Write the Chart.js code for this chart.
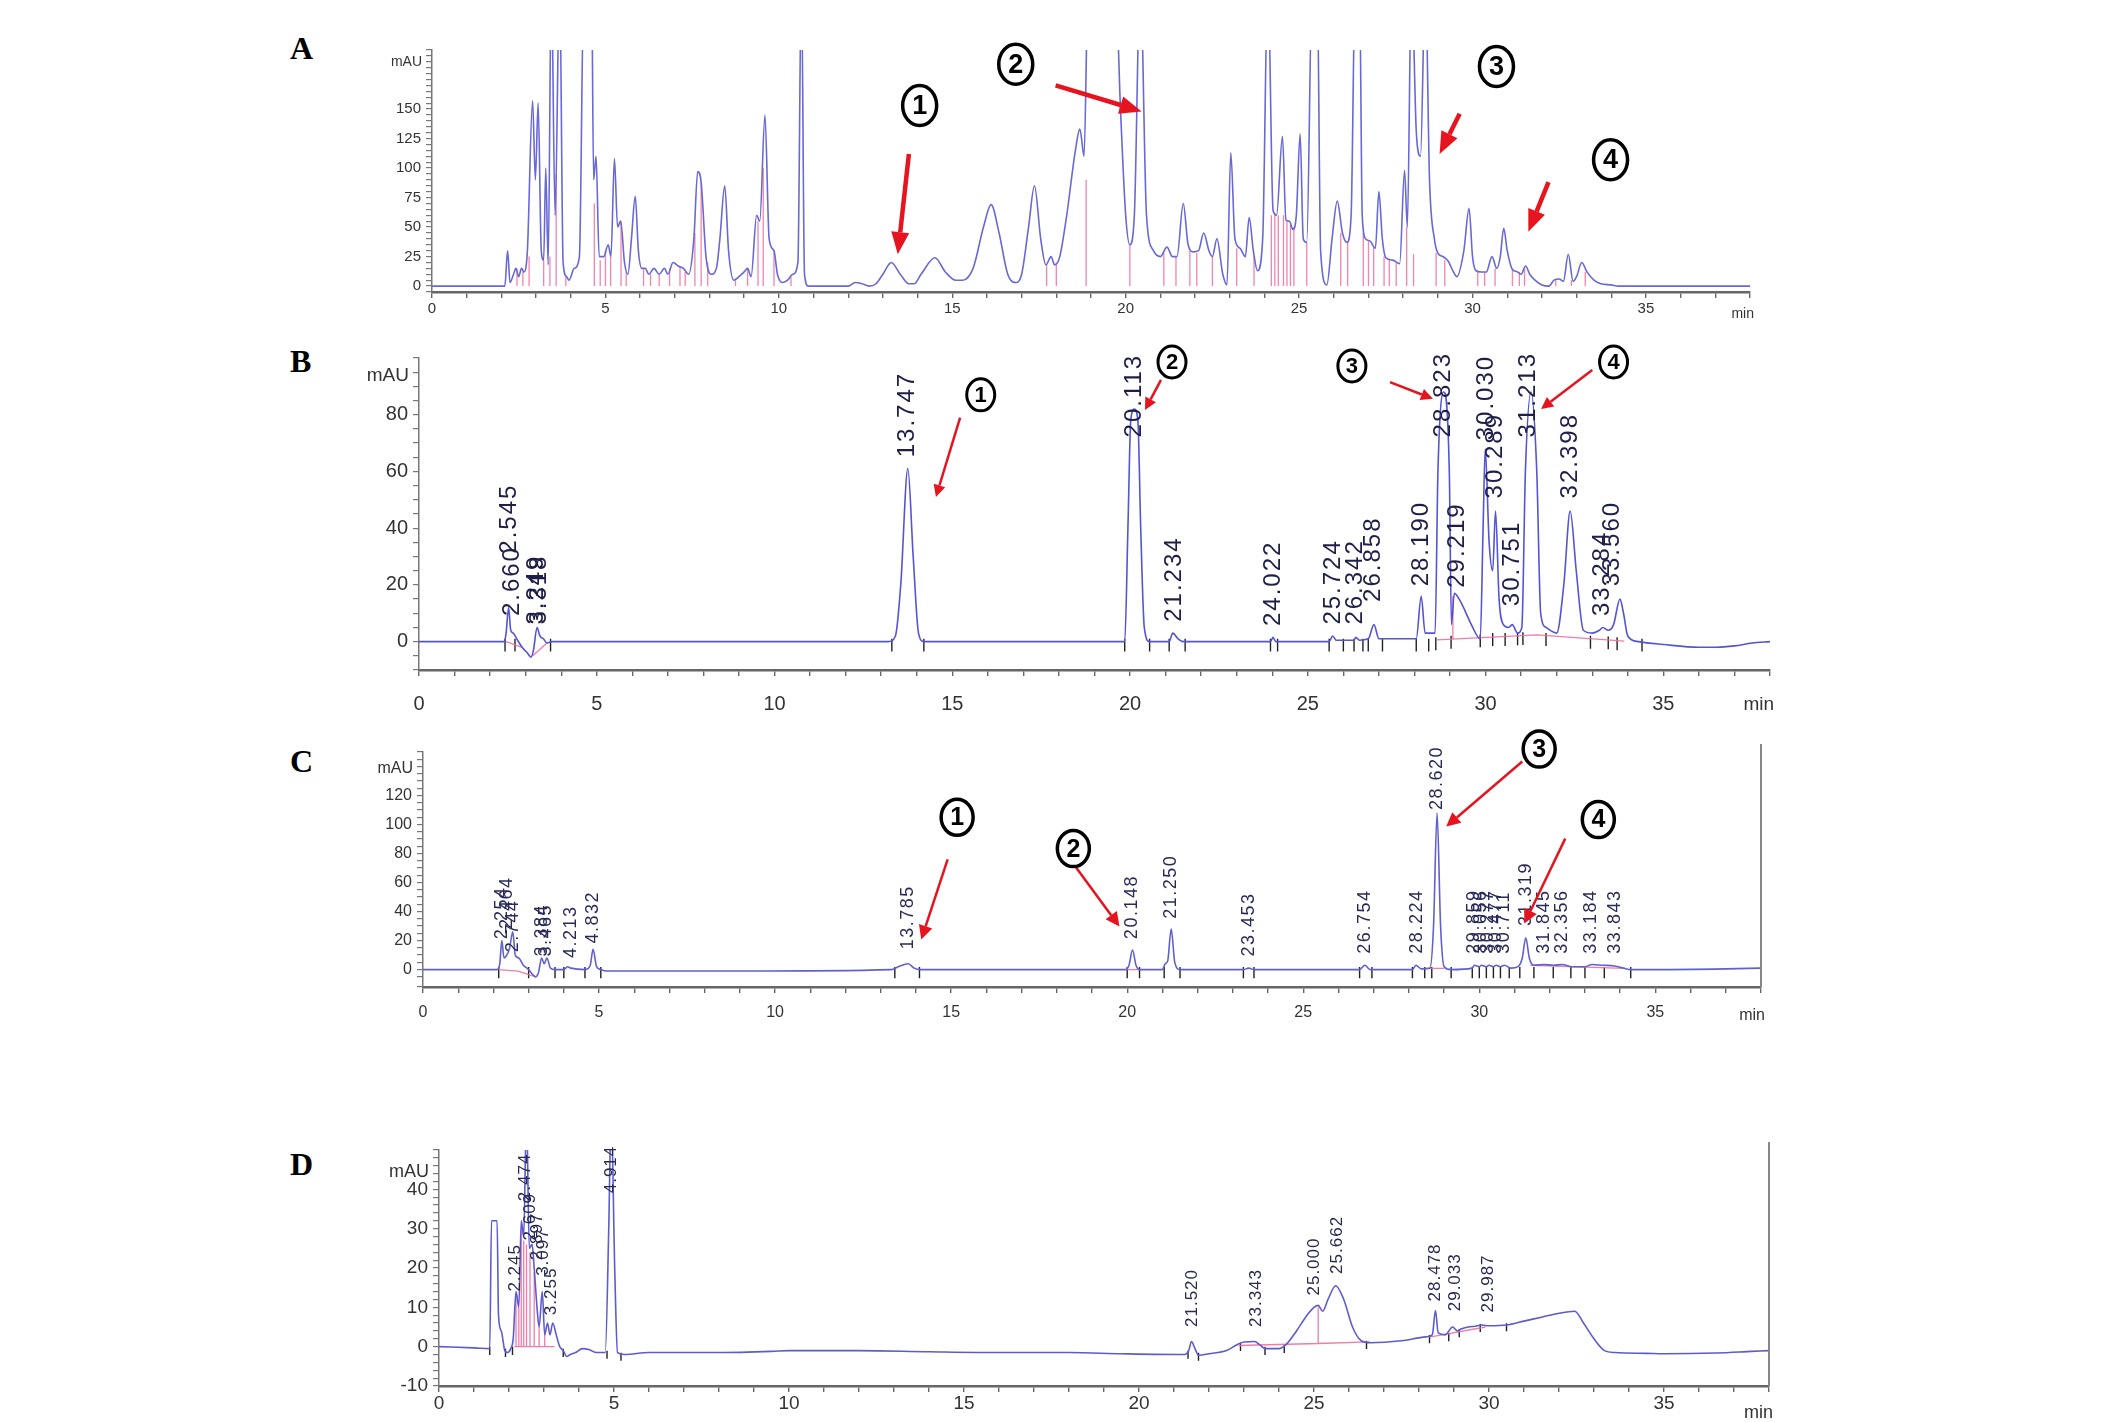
<!DOCTYPE html>
<html>
<head>
<meta charset="utf-8">
<script src="https://cdn.jsdelivr.net/npm/chart.js@4.4.1/dist/chart.umd.min.js"></script>
<style>
  html, body { margin: 0; padding: 0; background: #fff; width: 2126px; height: 1422px; overflow: hidden; }
  .panel { position: absolute; }
  .letter { position: absolute; font-family: "Liberation Serif", "Times New Roman", serif; font-weight: bold; font-size: 32px; color: #000; line-height: 36px; }
</style>
</head>
<body>
<div class="letter" style="left:290px;top:30px">A</div>
<div class="letter" style="left:290px;top:343px">B</div>
<div class="letter" style="left:290px;top:743px">C</div>
<div class="letter" style="left:290px;top:1146px">D</div>
<div class="panel" style="left:322px;top:5px;width:1488px;height:327px"><canvas id="chA"></canvas></div>
<div class="panel" style="left:309px;top:313px;width:1521px;height:405px"><canvas id="chB"></canvas></div>
<div class="panel" style="left:313px;top:707px;width:1508px;height:328px"><canvas id="chC"></canvas></div>
<div class="panel" style="left:329px;top:1105px;width:1500px;height:317px"><canvas id="chD"></canvas></div>
<script>
// ---- panel A : sample chromatogram (time min, mAU) ----
const traceA = [[0,0],[2.0,0],[2.1,0],[2.18,30],[2.25,3],[2.35,10],[2.42,15],[2.5,8],[2.58,15],[2.65,12],[2.75,30],
  [2.9,157],[2.98,90],[3.06,155],[3.15,30],[3.22,22],[3.28,100],[3.35,18],[3.44,260],[3.55,60],[3.68,260],[3.78,20],
  [3.88,8],[3.95,5],[4.1,15],[4.25,25],[4.38,260],[4.5,260],[4.6,260],[4.66,90],[4.73,110],[4.82,25],[4.95,25],
  [5.08,35],[5.16,25],[5.26,108],[5.35,50],[5.44,55],[5.55,20],[5.65,10],[5.75,40],[5.86,76],[5.95,30],[6.05,15],
  [6.15,15],[6.25,10],[6.4,15],[6.55,10],[6.7,15],[6.8,10],[6.95,20],[7.1,17],[7.25,15],[7.4,10],[7.55,40],[7.66,97],
  [7.76,88],[7.9,25],[8.05,10],[8.2,15],[8.3,40],[8.44,85],[8.55,30],[8.7,5],[8.85,8],[9.0,12],[9.1,15],[9.2,8],
  [9.36,60],[9.45,55],[9.6,145],[9.72,40],[9.86,30],[9.96,10],[10.1,3],[10.25,5],[10.4,10],[10.55,20],[10.65,260],
  [10.74,10],[10.85,0],[11.5,0],[12.0,0],[12.2,3],[12.4,2],[12.6,0],[12.8,2],[13.0,10],[13.24,20],[13.5,10],
  [13.75,2],[13.9,2],[14.1,10],[14.5,24],[14.8,12],[15.1,5],[15.3,5],[15.6,15],[15.9,50],[16.12,69],[16.35,45],
  [16.6,10],[16.85,3],[17.0,10],[17.2,50],[17.37,85],[17.55,40],[17.7,18],[17.85,25],[17.95,18],[18.1,25],[18.3,60],
  [18.55,115],[18.68,133],[18.8,110],[18.92,260],[19.1,260],[19.4,260],[19.7,260],[19.85,150],[20.0,60],[20.12,35],
  [20.25,60],[20.42,260],[20.6,60],[20.8,30],[21.0,25],[21.19,33],[21.35,25],[21.48,25],[21.66,70],[21.8,35],
  [21.95,29],[22.1,30],[22.25,45],[22.4,30],[22.5,25],[22.63,40],[22.8,10],[22.92,1],[23.03,113],[23.15,40],
  [23.3,32],[23.45,25],[23.56,58],[23.68,30],[23.8,13],[23.95,40],[24.1,260],[24.25,64],[24.35,60],[24.52,127],
  [24.62,56],[24.72,55],[24.82,48],[24.92,60],[25.03,129],[25.12,40],[25.22,37],[25.38,260],[25.52,260],[25.62,30],
  [25.8,1],[25.95,40],[26.1,72],[26.25,45],[26.38,37],[26.5,60],[26.62,260],[26.74,260],[26.82,60],[26.92,40],
  [27.05,38],[27.2,32],[27.3,80],[27.4,40],[27.5,24],[27.7,22],[27.9,19],[28.04,98],[28.12,50],[28.24,260],
  [28.38,130],[28.5,110],[28.64,260],[28.76,90],[28.9,40],[29.0,28],[29.15,25],[29.3,21],[29.45,12],[29.55,8],
  [29.75,30],[29.9,66],[30.0,25],[30.1,13],[30.25,12],[30.4,12],[30.56,25],[30.7,15],[30.8,25],[30.9,49],[31.0,30],
  [31.15,14],[31.3,12],[31.4,10],[31.53,17],[31.65,10],[31.8,5],[32.0,1],[32.2,0],[32.35,5],[32.5,6],[32.62,4],
  [32.76,27],[32.9,4],[33.0,8],[33.15,20],[33.3,12],[33.5,5],[33.7,2],[34.0,1],[34.2,0],[35.0,0],[38.0,0]];
const pinkA = [[2.45,15],[2.62,12],[2.8,25],[3.22,22],[3.4,25],[3.58,95],[3.86,8],[4.68,70],[4.85,22],[5.0,30],
  [5.15,25],[5.45,55],[5.6,12],[6.1,15],[6.3,10],[6.55,10],[6.85,15],[7.15,17],[7.3,12],[7.58,45],[7.76,88],[7.95,20],
  [8.75,5],[9.1,15],[9.4,55],[9.55,100],[9.86,30],[10.35,8],[17.72,18],[18.0,20],[18.86,90],[20.12,35],[21.1,28],
  [21.45,25],[21.85,30],[22.05,28],[22.5,25],[23.2,32],[23.7,25],[24.2,60],[24.3,62],[24.4,60],[24.55,60],[24.65,55],
  [24.75,52],[24.85,50],[25.22,37],[26.2,45],[26.4,37],[26.85,45],[27.0,38],[27.15,33],[27.45,25],[27.6,23],
  [27.8,20],[28.1,50],[28.3,27],[28.95,28],[29.2,22],[30.15,13],[30.35,12],[30.65,15],[31.15,14],[31.35,12],
  [31.5,15],[32.4,5],[32.85,5],[33.25,12]];
const circlesA = [[14.06,153,'1'],[16.83,188,'2'],[30.69,186,'3'],[33.98,107,'4']];
const arrowsA = [[13.75,112,13.43,27],[17.98,170,20.46,148],[29.63,146,29.05,112],[32.19,88,31.61,46]];

// ---- panel B ----
const traceB = [[0,0],[2.4,0],[2.45,3],[2.52,12],[2.58,4],[2.65,3],[2.75,1],[2.9,-2],[3.05,-4],[3.15,-5.5],[3.22,-3],
  [3.32,5],[3.4,2],[3.5,1],[3.6,-0.5],[3.75,0],[13.2,0],[13.4,2],[13.55,20],[13.75,61],[13.9,30],[14.05,3],[14.2,0],
  [19.85,0],[19.94,40],[20.02,78],[20.12,82],[20.22,78],[20.3,40],[20.4,5],[20.55,0],[21.1,0],[21.2,3],[21.35,1],
  [21.5,0],[23.95,0],[24.02,1.5],[24.1,0],[25.6,0],[25.7,2],[25.8,0.5],[26.3,0.5],[26.35,1.5],[26.45,0.5],[26.7,1],
  [26.86,6],[27.0,1],[28.05,1],[28.19,16],[28.3,3],[28.58,3],[28.66,60],[28.82,88],[28.98,60],[29.04,6],[29.12,17],
  [29.3,14],[29.6,6],[29.85,1],[29.93,40],[29.99,68],[30.1,35],[30.2,25],[30.28,46],[30.38,15],[30.5,6],[30.65,5],
  [30.75,6],[30.9,3],[31.02,5],[31.12,60],[31.28,88],[31.44,60],[31.55,10],[31.7,5],[32.0,3],[32.2,20],[32.38,46],
  [32.55,25],[32.75,4],[33.0,3],[33.2,4],[33.3,5],[33.45,4],[33.6,6],[33.78,15],[33.88,10],[34.0,2],[34.3,0],
  [35.0,-1],[36.0,-2],[36.5,-2],[37.0,-1.5],[37.5,-0.5],[38.0,0]];
const pinkLineB = [[28.62,0.6],[31.45,2.4],[33.9,0.2],null,[29.08,0.8],[29.08,16],null,[2.45,0],[2.9,-2],null,[3.2,-5],[3.6,-0.5]];
const marksB = [[2.42,0],[2.7,0],[3.7,0],[13.3,0],[14.2,0],[19.85,0],[20.55,0],[21.1,0],[21.55,0],[23.95,0],[24.15,0],
  [25.6,0],[26.0,0],[26.3,0],[26.55,0],[26.7,0],[27.1,0],[28.05,0],[28.4,0],[28.6,0.5],[29.03,1],[29.85,1.5],[30.2,2],
  [30.55,2],[30.9,2.2],[31.05,2.3],[31.7,2],[32.95,1],[33.45,0.8],[33.7,0.5],[34.4,0]];
const peaksB = [[2.545,'2.545',31],[2.62,'2.660',9],[3.30,'3.249',6],[3.38,'3.318',6],[13.747,'13.747',65],
  [20.113,'20.113',72],[21.234,'21.234',7],[24.022,'24.022',5.5],[25.724,'25.724',6],[26.342,'26.342',6],
  [26.858,'26.858',14],[28.190,'28.190',19.5],[28.823,'28.823',72],[29.219,'29.219',19],[30.030,'30.030',71],
  [30.289,'30.289',50.5],[30.751,'30.751',12.5],[31.213,'31.213',72],[32.398,'32.398',50.5],[33.284,'33.284',9],
  [33.560,'33.560',19.5]];
const circlesB = [[15.8,87,'1'],[21.18,98.6,'2'],[26.24,97.2,'3'],[33.6,98.6,'4']];
const arrowsB = [[15.22,79,14.54,51],[20.87,92.3,20.42,81.7],[27.31,91.5,28.52,85.6],[33.0,95.8,31.56,82]];

// ---- panel C ----
const traceC = [[0,0],[2.1,0],[2.18,4],[2.24,20],[2.3,8],[2.38,10],[2.46,15],[2.55,26],[2.62,10],[2.72,8],[2.85,3],
  [3.0,0],[3.1,-3],[3.2,-5],[3.28,-2],[3.37,8],[3.44,4],[3.52,8],[3.62,1],[3.75,0],[4.0,0],[4.1,2],[4.2,1],[4.6,0],
  [4.75,3],[4.83,14],[4.93,2],[5.05,0],[5.2,-1],[9.0,-1],[13.3,0],[13.5,2],[13.78,4],[13.95,1],[14.1,0],[19.95,0],
  [20.05,3],[20.15,13.5],[20.25,3],[20.35,0],[21.0,0],[21.08,4],[21.15,6],[21.25,28],[21.35,5],[21.5,0],[23.3,0],
  [23.45,1],[23.6,0],[26.6,0],[26.75,3],[26.9,0],[28.1,0],[28.2,3],[28.35,0.5],[28.6,1],[28.7,30],[28.8,108],[28.9,30],
  [29.0,2],[29.2,0],[29.8,1],[29.86,3],[30.0,2],[30.06,3],[30.2,2],[30.28,3],[30.4,2],[30.48,3],[30.6,2],[30.71,3],
  [30.9,1],[31.1,2],[31.22,8],[31.32,22],[31.42,8],[31.55,3],[31.85,3.5],[32.1,3],[32.36,3.5],[32.6,2],[33.0,2],
  [33.2,3.5],[33.5,3],[33.84,2.5],[34.1,1],[34.3,0],[35.0,0],[37.0,0.5],[38.0,1]];
const pinkLineC = [[31.45,3],[34.1,0.8],null,[2.15,0],[2.7,-1],[3.2,-5],null,[28.6,0.8],[29.0,0.8],null,[20.0,0],[20.35,0]];
const marksC = [[2.15,0],[3.0,0],[3.75,0],[4.0,0],[4.6,0],[5.05,0],[13.4,0],[14.1,0],[20.0,0],[20.35,0],[21.05,0],
  [21.5,0],[23.3,0],[23.6,0],[26.6,0],[26.95,0],[28.1,0],[28.45,0],[28.65,0],[29.2,0],[29.8,0],[30.0,0],[30.2,0],
  [30.4,0],[30.6,0],[30.85,0],[31.15,0],[31.55,0],[32.1,0],[32.6,0],[33.0,0],[33.55,0],[34.3,0]];
const peaksC = [[2.25,'2.254',21],[2.40,'2.464',28],[2.55,'2.744',12],[3.38,'3.384',9],[3.50,'3.465',9],
  [4.213,'4.213',8],[4.832,'4.832',18],[13.785,'13.785',14],[20.148,'20.148',21],[21.250,'21.250',35],
  [23.453,'23.453',9],[26.754,'26.754',11],[28.224,'28.224',11],[28.8,'28.620',110],[29.859,'29.859',11],
  [30.05,'30.056',11],[30.25,'30.277',11],[30.48,'30.477',11],[30.711,'30.711',11],[31.319,'31.319',30],
  [31.845,'31.845',11],[32.356,'32.356',11],[33.184,'33.184',11],[33.843,'33.843',11]];
const circlesC = [[15.17,105,'1'],[18.47,83.4,'2'],[31.7,152,'3'],[33.38,103.4,'4']];
const arrowsC = [[14.9,76,14.15,20.7],[18.47,73,19.78,29.7],[31.22,143.4,29.06,98.6],[32.44,90.3,31.28,31.7]];

// ---- panel D ----
const traceD = [[0,0],[1.0,-0.3],[1.45,-0.5],[1.5,32],[1.66,32],[1.7,8],[1.78,4],[1.88,-1],[1.95,-1.5],[2.05,-0.5],
  [2.12,2],[2.2,14],[2.28,10],[2.35,32],[2.42,28],[2.5,60],[2.58,25],[2.66,26],[2.72,20],[2.8,10],[2.86,5],[2.95,14],
  [3.02,3],[3.1,6],[3.17,3],[3.25,6],[3.35,3],[3.45,0],[3.55,-1],[3.65,-2.5],[3.75,-2],[3.9,-1.5],[4.1,-0.5],
  [4.3,-0.8],[4.5,-1.5],[4.75,-1.5],[4.85,30],[4.92,60],[5.02,20],[5.1,-1.5],[5.3,-2],[6.0,-1.5],[8.0,-1.5],
  [9.5,-1.2],[10.0,-1],[12.0,-1],[14.0,-1.3],[16.0,-1.5],[18.0,-1.5],[19.5,-1.8],[21.3,-2],[21.42,-1],[21.5,1.3],
  [21.6,-0.5],[21.7,-2.2],[22.0,-1.8],[22.5,-1],[22.8,0.5],[23.0,1.2],[23.3,1.3],[23.45,0.5],[23.6,-0.5],[24.0,-0.5],
  [24.2,0.5],[24.5,4],[24.8,8],[25.0,10],[25.12,10.5],[25.25,9],[25.4,12],[25.62,15.5],[25.85,12],[26.1,5],
  [26.35,1.5],[26.6,1],[27.5,1.5],[28.2,2.5],[28.38,3],[28.47,9.2],[28.55,3.5],[28.75,3],[28.96,5],[29.1,4],
  [29.2,4.5],[29.4,5],[29.6,5.2],[29.8,5.5],[30.0,5.3],[30.5,5.5],[31.0,6.5],[31.5,7.5],[32.0,8.5],[32.45,9],
  [32.7,6],[33.0,2],[33.3,-1],[33.6,-1.5],[34.5,-1.7],[35.0,-1.8],[36.5,-1.6],[37.5,-1.2],[38.0,-1]];
const pinkLineD = [[22.85,0.3],[25.12,0.8],[26.6,1.2],null,[25.12,0.8],[25.12,10],null,[28.3,2.4],[29.9,5],null,
  [2.2,0],[2.2,13],null,[2.28,0],[2.28,10],null,[2.35,0],[2.35,30],null,[2.42,0],[2.42,27],null,[2.5,0],[2.5,26],null,
  [2.6,0],[2.6,24],null,[2.72,0],[2.72,19],null,[2.86,0],[2.86,5],null,[3.02,0],[3.02,3],null,[2.15,0],[3.3,0]];
const marksD = [[1.45,-0.5],[1.9,-1],[2.1,-0.5],[3.55,-1],[4.8,-1.5],[5.2,-2],[21.4,-1.5],[21.7,-2],[22.9,0.5],
  [23.6,-0.5],[24.15,0],[26.5,1],[28.3,2.5],[28.85,3],[29.15,4],[29.75,5.3],[30.5,5.5]];
const peaksD = [[2.18,'2.245',14],[2.48,'2.474',37],[2.62,'2.609',27],[2.82,'2.897',22],[2.98,'3.097',18],
  [3.2,'3.255',8],[4.914,'4.914',39],[21.520,'21.520',5],[23.343,'23.343',5],[25.000,'25.000',13],
  [25.662,'25.662',18.5],[28.478,'28.478',11.5],[29.033,'29.033',9],[29.987,'29.987',8.7]];

function pts(arr) {
  let last = 0;
  return arr.map(p => {
    if (p === null) return { x: last, y: null };
    last = p[0];
    return { x: p[0], y: p[1] };
  });
}
function drops(arr, from) {
  let res = [];
  arr.forEach(p => { res.push({ x: p[0], y: from }, { x: p[0], y: p[1] }, { x: p[0], y: null }); });
  return res;
}
function ticks(arr, len) {
  let res = [];
  arr.forEach(p => { res.push({ x: p[0], y: p[1] + len * 0.3 }, { x: p[0], y: p[1] - len }, { x: p[0], y: null }); });
  return res;
}

const SANS = '"Liberation Sans", Arial, sans-serif';
const NARROW = '"Liberation Sans Narrow", "Liberation Sans", Arial, sans-serif';

function annot(p) {
  return {
    id: 'annot',
    afterDatasetsDraw(chart) {
      const ctx = chart.ctx, xs = chart.scales.x, ys = chart.scales.y, ca = chart.chartArea;
      ctx.save();
      if (p.frame) {
        ctx.strokeStyle = '#888'; ctx.lineWidth = 2;
        ctx.beginPath(); ctx.moveTo(ca.right, ca.top - 8); ctx.lineTo(ca.right, ca.bottom); ctx.stroke();
      }
      // retention time labels
      ctx.fillStyle = p.labelColor; ctx.font = p.labelFont; ctx.letterSpacing = p.labelSpacing || '0px';
      (p.peaks || []).forEach(([t, txt, base]) => {
        ctx.save();
        ctx.translate(xs.getPixelForValue(t), ys.getPixelForValue(base));
        ctx.rotate(-Math.PI / 2);
        ctx.textAlign = 'left'; ctx.textBaseline = 'middle';
        ctx.fillText(txt, 0, 0);
        ctx.restore();
      });
      ctx.letterSpacing = '0px';
      // red arrows
      ctx.strokeStyle = '#e5141e'; ctx.fillStyle = '#e5141e'; ctx.lineWidth = p.arrowW;
      (p.arrows || []).forEach(([t1, v1, t2, v2]) => {
        const x1 = xs.getPixelForValue(t1), y1 = ys.getPixelForValue(v1);
        const x2 = xs.getPixelForValue(t2), y2 = ys.getPixelForValue(v2);
        const a = Math.atan2(y2 - y1, x2 - x1), h = p.headL, w = p.headW;
        const bx = x2 - h * Math.cos(a), by = y2 - h * Math.sin(a);
        ctx.beginPath(); ctx.moveTo(x1, y1); ctx.lineTo(bx, by); ctx.stroke();
        ctx.beginPath(); ctx.moveTo(x2, y2);
        ctx.lineTo(bx + w * Math.sin(a), by - w * Math.cos(a));
        ctx.lineTo(bx - w * Math.sin(a), by + w * Math.cos(a));
        ctx.closePath(); ctx.fill();
      });
      // circled numbers
      (p.circles || []).forEach(([t, v, n]) => {
        const x = xs.getPixelForValue(t), y = ys.getPixelForValue(v);
        ctx.fillStyle = '#fff'; ctx.strokeStyle = '#000'; ctx.lineWidth = p.circW;
        ctx.beginPath(); ctx.ellipse(x, y, p.rx, p.ry, 0, 0, Math.PI * 2); ctx.fill(); ctx.stroke();
        ctx.fillStyle = '#000'; ctx.font = 'bold ' + p.circFont + 'px ' + SANS;
        ctx.textAlign = 'center'; ctx.textBaseline = 'middle';
        ctx.fillText(n, x, y + 1);
      });
      // mAU and min
      ctx.fillStyle = '#333'; ctx.font = p.unitFont;
      ctx.textAlign = 'right'; ctx.textBaseline = 'middle';
      ctx.fillText('mAU', ca.left - 10, ca.top + p.mauDy);
      ctx.textAlign = 'right';
      ctx.fillText('min', ca.right + 4, ca.bottom + p.minDy);
      ctx.restore();
    }
  };
}

function makePanel(id, p) {
  const datasets = [
    { data: pts(p.trace), borderColor: p.traceColor, borderWidth: 1.6, pointRadius: 0, cubicInterpolationMode: 'monotone' }
  ];
  if (p.pinkDrops) datasets.push({ data: drops(p.pinkDrops, 0), borderColor: 'rgba(240,110,160,0.85)', borderWidth: 1.3, pointRadius: 0, spanGaps: false });
  if (p.pinkLine) datasets.push({ data: pts(p.pinkLine), borderColor: 'rgba(240,110,160,0.9)', borderWidth: 1.3, pointRadius: 0, spanGaps: false });
  if (p.marks) datasets.push({ data: ticks(p.marks, p.markLen), borderColor: '#222', borderWidth: 1.4, pointRadius: 0, spanGaps: false });

  new Chart(document.getElementById(id), {
    type: 'line',
    data: { datasets: datasets },
    options: {
      responsive: true,
      maintainAspectRatio: false,
      animation: false,
      events: [],
      layout: { padding: { top: 45, right: 60, left: 0, bottom: 0 } },
      plugins: { legend: { display: false }, tooltip: { enabled: false } },
      scales: {
        x: {
          type: 'linear', min: 0, max: 38,
          afterFit: s => { s.height = p.xH; },
          ticks: { stepSize: 1, autoSkip: false, maxRotation: 0, padding: p.xPad, color: '#333',
            font: { family: NARROW, size: p.tickSize },
            callback: v => (Math.abs(v % 5) < 1e-6 && v <= 35) ? v : '' },
          grid: { drawOnChartArea: false, drawTicks: true, tickLength: 6, color: '#666', lineWidth: 1.4 },
          border: { color: '#666', width: 2.5 }
        },
        y: {
          type: 'linear', min: p.yMin, max: p.yMax,
          afterFit: s => { s.width = 110; },
          ticks: { stepSize: p.yStep, autoSkip: false, padding: 5, color: '#333',
            font: { family: NARROW, size: p.tickSize },
            callback: v => p.yLabel(v) ? Math.round(v) : '' },
          grid: { drawOnChartArea: false, drawTicks: true, tickLength: 6, color: '#777', lineWidth: 1.2 },
          border: { color: '#777', width: 1.5 }
        }
      }
    },
    plugins: [annot(p)]
  });
}

const onStep = (v, step, lo, hi) => v >= lo - 1e-6 && v <= hi + 1e-6 && Math.abs(v / step - Math.round(v / step)) < 1e-6;

makePanel('chA', {
  trace: traceA, traceColor: 'rgb(104,104,214)', pinkDrops: pinkA,
  yMin: -5, yMax: 200, yStep: 5, yLabel: v => onStep(v, 25, 0, 150),
  xH: 40, xPad: 2, tickSize: 15,
  circles: circlesA, arrows: arrowsA, arrowW: 4.5, headL: 22, headW: 9,
  rx: 17, ry: 20, circW: 3.5, circFont: 27,
  unitFont: '14px ' + NARROW, mauDy: 12, minDy: 22
});
makePanel('chB', {
  trace: traceB, traceColor: 'rgb(84,84,212)', pinkLine: pinkLineB, marks: marksB, markLen: 3.5,
  yMin: -10, yMax: 100, yStep: 5, yLabel: v => onStep(v, 20, 0, 80),
  xH: 48, xPad: 16, tickSize: 20,
  peaks: peaksB, labelColor: '#1e1e48', labelFont: '24px ' + SANS, labelSpacing: '2px',
  circles: circlesB, arrows: arrowsB, arrowW: 2.5, headL: 12, headW: 6,
  rx: 14, ry: 16, circW: 3, circFont: 22,
  unitFont: '19px ' + NARROW, mauDy: 18, minDy: 35
});
makePanel('chC', {
  trace: traceC, traceColor: 'rgb(96,96,206)', pinkLine: pinkLineC, marks: marksC, markLen: 6,
  yMin: -12, yMax: 150, yStep: 5, yLabel: v => onStep(v, 20, 0, 120),
  xH: 48, xPad: 10, tickSize: 16, frame: true,
  peaks: peaksC, labelColor: '#2a2a58', labelFont: '18px ' + SANS, labelSpacing: '1.5px',
  circles: circlesC, arrows: arrowsC, arrowW: 2.5, headL: 14, headW: 7,
  rx: 16, ry: 18, circW: 3.5, circFont: 25,
  unitFont: '16px ' + NARROW, mauDy: 17, minDy: 29
});
makePanel('chD', {
  trace: traceD, traceColor: 'rgb(92,92,206)', pinkLine: pinkLineD, marks: marksD, markLen: 1.6,
  yMin: -10, yMax: 50, yStep: 2, yLabel: v => onStep(v, 10, -10, 40),
  xH: 36, xPad: 0, tickSize: 19, frame: true,
  peaks: peaksD, labelColor: '#2a2a50', labelFont: '17px ' + SANS, labelSpacing: '1px',
  unitFont: '18px ' + NARROW, mauDy: 22, minDy: 27
});
</script>
</body>
</html>
